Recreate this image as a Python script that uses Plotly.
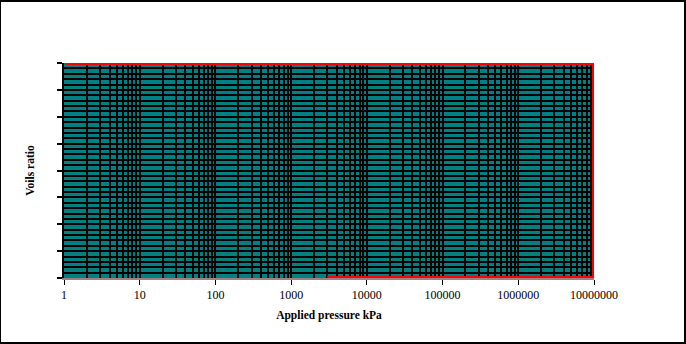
import plotly.graph_objects as go

# Data
x_tick_vals = [1, 10, 100, 1000, 10000, 100000, 1000000, 10000000]
x_tick_text = ["1", "10", "100", "1000", "10000", "100000", "1000000", "10000000"]
pressure = [1, 10000000, 10000000, 3000]
voids = [8, 8, 0, 0]

PW, PH = 530, 215
dx = 1.0 * 7 / PW
dy = 1.0 * 8 / PH

fig = go.Figure()
# anchor trace so the main (gridded) axes are drawn
fig.add_trace(go.Scatter(x=[None], y=[None], mode="lines", showlegend=False,
                         hoverinfo="skip"))
fig.add_trace(go.Scatter(x=pressure, y=voids, mode="lines",
                         line=dict(color="#ff0000", width=2), showlegend=False,
                         xaxis="x2", yaxis="y2"))

fig.update_layout(
    width=686, height=344,
    margin=dict(l=64, r=92, t=63, b=66),
    paper_bgcolor="white",
    plot_bgcolor="#008080",
    font=dict(family="Liberation Serif", size=12, color="black"),
    showlegend=False,
    xaxis2=dict(type="log", range=[-dx, 7 + dx], overlaying="x", visible=False),
    yaxis2=dict(range=[-dy, 8 + dy], overlaying="y", visible=False),
)
fig.update_layout(
    xaxis=dict(
        type="log", range=[0, 7],
        tickvals=x_tick_vals, ticktext=x_tick_text,
        ticks="outside", ticklen=5, tickwidth=1, tickcolor="black",
        showgrid=True, gridcolor="black", gridwidth=2,
        minor=dict(dtick="D1", showgrid=True, gridcolor="black", gridwidth=2, ticks=""),
        showline=True, linecolor="#a08080", linewidth=2,
        zeroline=False,
        title=dict(text="<b>Applied pressure kPa</b>", font=dict(size=11.5), standoff=10),
        tickfont=dict(size=12),
    ),
    yaxis=dict(
        range=[0, 8], dtick=1,
        showticklabels=False,
        ticks="outside", ticklen=5, tickwidth=2, tickcolor="black",
        showgrid=True, gridcolor="black", gridwidth=2,
        minor=dict(dtick=0.2, showgrid=True, gridcolor="black", gridwidth=2, ticks=""),
        showline=True, linecolor="black", linewidth=2,
        zeroline=False,
        title=dict(text="<b>Voils ratio</b>", font=dict(size=11.5), standoff=20),
    ),
)
fig.add_shape(type="rect", xref="paper", yref="paper", x0=-64/530, x1=1+91/530,
              y0=-65/215, y1=1+62/215, line=dict(color="black", width=2),
              fillcolor="rgba(0,0,0,0)", layer="below")
fig.write_html("out.html")
